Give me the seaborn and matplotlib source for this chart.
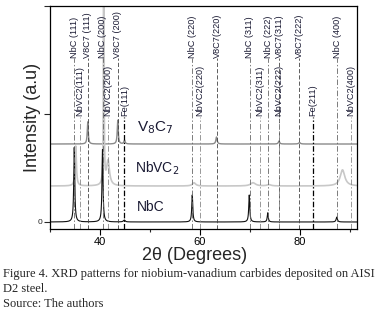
import numpy as np
import pandas as pd
import seaborn as sns
import matplotlib.pyplot as plt

# peak lists: position (deg), height, half width
nbc_pos = [34.85, 40.5, 44.85, 58.45, 69.85, 73.55, 87.35]
nbc_h = [690, 670, 18, 250, 250, 85, 45]
nbc_w = [0.12, 0.12, 0.2, 0.12, 0.12, 0.12, 0.15]

nbvc2_pos = [35.15, 40.75, 41.6, 58.8, 70.6, 73.8, 88.5]
nbvc2_h = [370, 4000, 230, 30, 30, 12, 150]
nbvc2_w = [0.15, 0.05, 0.35, 0.4, 0.6, 0.5, 0.55]

v8c7_pos = [37.55, 43.55, 44.9, 63.3, 75.8, 79.9]
v8c7_h = [205, 220, 35, 65, 28, 14]
v8c7_w = [0.12, 0.12, 0.15, 0.15, 0.15, 0.2]

offsets = {"NbC": 0, "NbVC2": 333, "V8C7": 722}

# reference lines: label, position, row (0 = top, 1 = lower), phase
ref_labels = ["NbC (111)", "V8C7 (111)", "NbC (200)", "V8C7 (200)", "NbC (220)",
              "V8C7(220)", "NbC (311)", "NbC (222)", "V8C7(311)", "V8C7(222)", "NbC (400)",
              "NbVC2(111)", "NbVC2(200)", "Fe(111)", "NbVC2(220)", "NbVC2(311)",
              "NbVC2(222)", "Fe(211)", "NbVC2(400)"]
ref_pos = [34.85, 37.55, 40.5, 43.5, 58.5, 63.5, 70.0, 73.65, 75.8, 79.85, 87.4,
           35.9, 41.5, 44.9, 60.0, 71.95, 75.7, 82.6, 90.2]
ref_row = [0] * 11 + [1] * 8
ref_phase = ["NbC", "V8C7", "NbC", "V8C7", "NbC", "V8C7", "NbC", "NbC", "V8C7", "V8C7", "NbC",
             "NbVC2", "NbVC2", "Fe", "NbVC2", "NbVC2", "NbVC2", "Fe", "NbVC2"]

curve_names = ["V$_8$C$_7$", "NbVC$_2$", "NbC"]

plt.rcParams["lines.scale_dashes"] = False
sns.set_style("ticks")
plt.rcParams["font.family"] = ["Liberation Sans", "DejaVu Sans"]

fig = plt.figure(figsize=(3.77, 3.15), dpi=100)
ax = fig.add_axes([50 / 377, 86 / 315, 307 / 377, 223 / 315])

x = np.linspace(29.8, 91.4, 6000)


def pattern(pos, h, w, base):
    y = np.full_like(x, base, dtype=float)
    for p, hh, ww in zip(pos, h, w):
        y += hh * ww ** 2 / ((x - p) ** 2 + ww ** 2)
    return y


df = pd.DataFrame({
    "x": x,
    "NbC": pattern(nbc_pos, nbc_h, nbc_w, offsets["NbC"]),
    "NbVC2": pattern(nbvc2_pos, nbvc2_h, nbvc2_w, offsets["NbVC2"]),
    "V8C7": pattern(v8c7_pos, v8c7_h, v8c7_w, offsets["V8C7"]),
})

sns.lineplot(data=df, x="x", y="V8C7", color="#8a8a8a", lw=1.0, estimator=None, ax=ax)
sns.lineplot(data=df, x="x", y="NbVC2", color="#c8c8c8", lw=1.2, estimator=None, ax=ax)
sns.lineplot(data=df, x="x", y="NbC", color="#111111", lw=0.8, estimator=None, ax=ax)

styles = {
    "NbC": dict(color="#666666", lw=0.6, ls=(0, (4, 1.5, 1, 1.5))),
    "NbVC2": dict(color="#888888", lw=0.6, ls=(0, (4, 1.5, 1, 1.5))),
    "V8C7": dict(color="#444444", lw=0.6, ls=(0, (3, 1.5))),
    "Fe": dict(color="#000000", lw=0.9, ls=(0, (4, 1.5, 1, 1.5))),
}
row_bottom = [1518, 972]
for lab, p, r, ph in zip(ref_labels, ref_pos, ref_row, ref_phase):
    ax.plot([p, p], [-65, row_bottom[r]], **styles[ph])
    ax.text(p, row_bottom[r] + 5, lab, rotation=90, ha="center", va="bottom",
            fontsize=6.6, color="#1a1a33")

ax.text(47.4, 870, curve_names[0], fontsize=11, va="center", ha="left", color="#1a1a33")
ax.text(47.0, 500, curve_names[1], fontsize=10, va="center", ha="left", color="#1a1a33")
ax.text(47.4, 139, curve_names[2], fontsize=10, va="center", ha="left", color="#1a1a33")

ax.set_xlim(30, 91.4)
ax.set_ylim(-65, 2000)
ax.set_xticks([40, 60, 80])
ax.set_xticks([30, 50, 70, 90], minor=True)
ax.set_yticks([0, 1000, 2000])
ax.set_yticklabels(["0", "", ""])
ax.tick_params(axis="x", labelsize=8, length=4, width=0.8, pad=2, colors="black")
ax.tick_params(axis="x", which="minor", length=2.5, width=0.8)
ax.tick_params(axis="y", labelsize=6, length=4, width=0.8, pad=1.5)
for s in ax.spines.values():
    s.set_linewidth(0.9)
    s.set_color("black")

ax.set_xlabel("2θ (Degrees)", fontsize=13)
ax.set_ylabel("Intensity (a.u)", fontsize=13)
ax.xaxis.set_label_coords((195 - 50) / 307, -0.082)
ax.yaxis.set_label_coords(-0.03, 0.5)

cap = dict(family=["Liberation Serif", "DejaVu Serif"], fontsize=9, va="baseline", ha="left")
fig.text(3 / 377, 1 - 277 / 315,
         "Figure 4. XRD patterns for niobium-vanadium carbides deposited on AISI", **cap)
fig.text(3 / 377, 1 - 292 / 315, "D2 steel.", **cap)
fig.text(3 / 377, 1 - 307 / 315, "Source: The authors", **cap)

fig.savefig("out.png", dpi=100)
